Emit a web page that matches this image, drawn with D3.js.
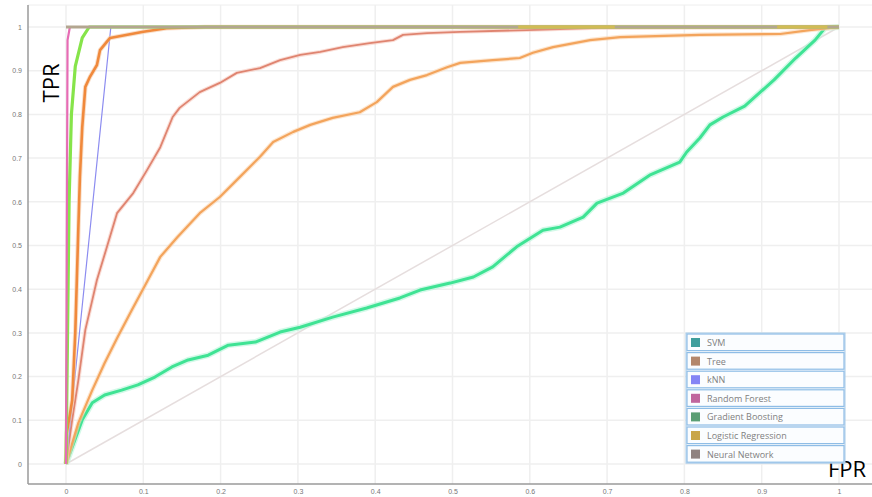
<!DOCTYPE html>
<html>
<head>
<meta charset="utf-8">
<script src="https://cdn.jsdelivr.net/npm/d3@7"></script>
<style>
  body { margin: 0; background: #fff; }
  svg { display: block; }
</style>
</head>
<body>
<svg id="drawing_region"></svg>
<script>
// ROC curves, values as [fpr, tpr]
var svmCurve = [[0,0],[0.021,0.101],[0.034,0.140],[0.050,0.158],[0.072,0.169],[0.093,0.181],[0.115,0.199],
  [0.137,0.222],[0.158,0.238],[0.184,0.249],[0.210,0.272],[0.245,0.279],[0.277,0.302],[0.303,0.313],
  [0.345,0.336],[0.389,0.357],[0.432,0.380],[0.458,0.398],[0.497,0.414],[0.527,0.428],[0.552,0.451],
  [0.583,0.497],[0.617,0.535],[0.639,0.542],[0.669,0.565],[0.687,0.597],[0.721,0.620],[0.755,0.661],
  [0.794,0.691],[0.803,0.714],[0.820,0.746],[0.833,0.776],[0.850,0.794],[0.878,0.819],[0.916,0.879],
  [0.944,0.929],[0.969,0.970],[0.982,0.998],[1,1]];
var treeCurve = [[0,0],[0.008,0.101],[0.016,0.192],[0.025,0.307],[0.034,0.375],[0.040,0.421],[0.053,0.497],
  [0.066,0.574],[0.087,0.620],[0.105,0.673],[0.122,0.725],[0.138,0.794],[0.147,0.815],[0.173,0.851],
  [0.199,0.872],[0.221,0.895],[0.251,0.906],[0.277,0.924],[0.303,0.936],[0.329,0.943],[0.358,0.954],
  [0.393,0.963],[0.423,0.970],[0.436,0.982],[0.467,0.986],[0.510,0.989],[0.596,0.993],[0.691,0.998],[1,1]];
var knnCurve = [[0,0],[0.058,1],[1,1]];
var forestCurve = [[0,0],[0.001,0.5],[0.002,0.97],[0.005,1],[1,1]];
var boostCurve = [[0,0],[0.002,0.3],[0.004,0.6],[0.007,0.8],[0.012,0.91],[0.021,0.975],[0.03,1],[1,1]];
var logregCurve = [[0,0],[0.001,0.07],[0.008,0.146],[0.012,0.3],[0.014,0.421],[0.016,0.542],[0.018,0.657],
  [0.021,0.771],[0.025,0.863],[0.031,0.886],[0.04,0.913],[0.044,0.947],[0.057,0.975],[0.1,0.989],
  [0.13,0.997],[0.18,1],[1,1]];
var netCurve = [[0,0],[0.016,0.094],[0.034,0.169],[0.050,0.231],[0.067,0.291],[0.085,0.352],[0.106,0.421],
  [0.122,0.474],[0.144,0.519],[0.173,0.574],[0.199,0.611],[0.225,0.657],[0.251,0.703],[0.268,0.737],
  [0.294,0.760],[0.316,0.776],[0.345,0.792],[0.380,0.805],[0.402,0.828],[0.423,0.863],[0.445,0.879],
  [0.467,0.890],[0.493,0.908],[0.510,0.918],[0.552,0.924],[0.587,0.929],[0.604,0.941],[0.630,0.954],
  [0.678,0.970],[0.717,0.977],[0.820,0.982],[0.924,0.984],[0.962,0.993],[1,1]];
var topLine = [[0,1],[1,1]];
var goldSegments = [[[0.585,1],[0.71,1]], [[0.92,1],[0.985,1]]];
var diagonal = [[0,0],[1,1]];

var legendNames = ['SVM', 'Tree', 'kNN', 'Random Forest', 'Gradient Boosting', 'Logistic Regression', 'Neural Network'];
var legendColors = ['#3f9e9c', '#b3876c', '#8585f5', '#c0669e', '#5a9e74', '#c9a64a', '#8f8280'];
var xTicks = [0,0.1,0.2,0.3,0.4,0.5,0.6,0.7,0.8,0.9,1];
var yTicks = [0,0.1,0.2,0.3,0.4,0.5,0.6,0.7,0.8,0.9,1];

var width = 872;
var height = 497;

var svg = d3.select('#drawing_region')
    .attr('width', width)
    .attr('height', height)
    .style('font-family', '"Open Sans", sans-serif');

const xscale = d3.scaleLinear().domain([0, 1]).range([66, 839]);
const yscale = d3.scaleLinear().domain([0, 1]).range([464, 27]);

// frame
svg.append('line').attr('x1', 28).attr('x2', width).attr('y1', 5).attr('y2', 5)
    .attr('stroke', '#eeeeee');

// grid
svg.append('g').selectAll('line').data(xTicks).join('line')
    .attr('x1', d => xscale(d)).attr('x2', d => xscale(d))
    .attr('y1', 5).attr('y2', 484)
    .attr('stroke', '#efefef').attr('stroke-width', 1.5);
svg.append('g').selectAll('line').data(yTicks).join('line')
    .attr('x1', 28).attr('x2', width)
    .attr('y1', d => yscale(d)).attr('y2', d => yscale(d))
    .attr('stroke', '#efefef').attr('stroke-width', 1.5);

// axes
const xaxis = d3.axisBottom(xscale).tickValues(xTicks).tickFormat(d3.format('')).tickSize(0).tickPadding(5);
const yaxis = d3.axisLeft(yscale).tickValues(yTicks).tickFormat(d3.format('')).tickSize(0).tickPadding(6);

const xg = svg.append('g').attr('transform', 'translate(0, 484)').call(xaxis);
xg.select('.domain').remove();
const yg = svg.append('g').attr('transform', 'translate(28, 0)').call(yaxis);
yg.select('.domain').remove();
svg.selectAll('.tick text').attr('fill', '#777').style('font-size', '7px');

svg.append('line').attr('x1', 28).attr('x2', width).attr('y1', 484).attr('y2', 484)
    .attr('stroke', '#9a9a9a').attr('stroke-width', 1.5);
svg.append('line').attr('x1', 28).attr('x2', 28).attr('y1', 5).attr('y2', 484)
    .attr('stroke', '#9a9a9a').attr('stroke-width', 1.5);

const line = d3.line()
    .x(d => xscale(d[0]))
    .y(d => yscale(d[1]));

function curve(data, color, w, op) {
  svg.append('path')
      .attr('d', line(data))
      .attr('fill', 'none')
      .attr('stroke', color)
      .attr('stroke-width', w)
      .attr('stroke-opacity', op || 1)
      .attr('stroke-linejoin', 'round');
}

curve(diagonal, '#e6dede', 1.5);
curve(svmCurve, '#b5f5d8', 6, 0.6);
curve(svmCurve, '#3fe394', 3);
curve(netCurve, '#fbd6b0', 4.5, 0.6);
curve(netCurve, '#f3a45c', 2.2);
curve(treeCurve, '#f6c8bc', 4, 0.6);
curve(treeCurve, '#df8470', 1.8);
curve(knnCurve, '#8c8cf0', 1.2);
curve(logregCurve, '#f5c9a6', 4.5, 0.6);
curve(logregCurve, '#f0893c', 2.6);
curve(boostCurve, '#86e44a', 3.2);
curve(forestCurve, '#e66cb4', 2.2);

// shared TPR = 1 line drawn over the curve ends
curve(topLine, '#b3a690', 2.8);
goldSegments.forEach(s => curve(s, '#d2bb55', 3));

// axis titles
svg.append('text')
    .attr('transform', 'translate(59, 83) rotate(-90)')
    .attr('text-anchor', 'middle')
    .style('font-size', '22px')
    .attr('fill', '#000')
    .text('TPR');
svg.append('text')
    .attr('x', 828).attr('y', 477)
    .style('font-size', '22px')
    .attr('fill', '#000')
    .text('FPR');

// legend
const legend = svg.append('g').attr('transform', 'translate(686, 333)');
const rowH = 18.6;
legend.append('rect').attr('width', 159).attr('height', rowH * legendNames.length)
    .attr('fill', '#f7fafd').attr('stroke', '#a8cbe8');
const rows = legend.selectAll('g').data(legendNames).join('g')
    .attr('transform', (d, i) => `translate(0, ${i * rowH})`);
rows.append('rect').attr('x', 1).attr('y', 1).attr('width', 157).attr('height', rowH - 2)
    .attr('fill', '#fbfdff').attr('stroke', '#8fbde6').attr('stroke-width', 1.2);
rows.append('rect').attr('x', 5).attr('y', 5).attr('width', 9).attr('height', 9)
    .attr('fill', (d, i) => legendColors[i]);
rows.append('text').attr('x', 21).attr('y', 13)
    .style('font-size', '9px').attr('fill', '#808080')
    .text(d => d);
</script>
</body>
</html>
